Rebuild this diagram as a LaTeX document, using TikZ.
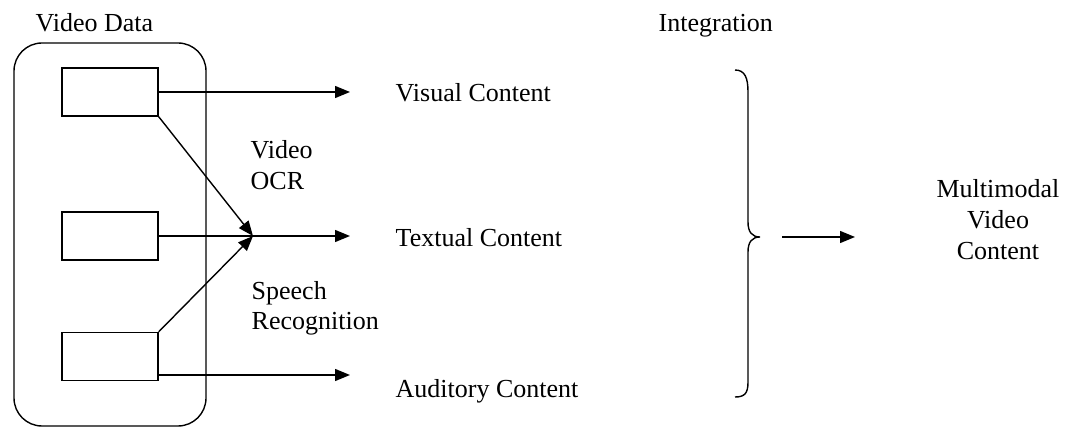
\documentclass[tikz,border=0pt]{standalone}
\usepackage{fontspec}
\setmainfont{Liberation Serif}
\usetikzlibrary{arrows.meta}
\begin{document}
\begin{tikzpicture}[x=1pt,y=-1pt,
  line width=1.4pt,
  lbl/.style={inner sep=0pt, anchor=base west, font=\fontsize{26}{30}\selectfont},
  src/.style={draw, minimum width=96pt, minimum height=48pt, inner sep=0pt},
  arr/.style={-{Triangle[length=15pt,width=12pt]}},
]
\useasboundingbox (0,0) rectangle (1073,427);
% container
\draw[rounded corners=28pt] (14,43) rectangle (206,426);
% source boxes
\node[src] (b1) at (110,92) {};
\node[src] (b2) at (110,236) {};
\node[src] (b3) at (110,356.5) {};
% arrow end points
\coordinate (e1) at (350,92);
\coordinate (e2) at (350,236);
\coordinate (e3) at (350,375);
\coordinate (cv) at (253,236);
% connectors
\draw[arr] (b1.east) -- (e1);
\draw[arr] (b2.east) -- (e2);
\draw[arr] ([yshift=-18.5pt]b3.east) -- (e3);
\draw[arr] (b1.south east) -- (cv);
\draw[arr] (b3.north east) -- (cv);
% labels
\node[lbl] (vd) at (35,32) {Video Data};
\node[lbl] (vc) at (395,102) {Visual Content};
\node[lbl] (tc) at (395,247) {Textual Content};
\node[lbl] (ac) at (395,397) {Auditory Content};
\node[lbl] (v1) at (250,159) {Video};
\node[lbl] (v2) at (250,190) {OCR};
\node[lbl] (s1) at (251,300) {Speech};
\node[lbl] (s2) at (251,330) {Recognition};
\node[lbl] (ig) at (658,32) {Integration};
% brace
\draw (735,70) .. controls (745,70) and (748,78) .. (748,92) -- (748,222)
  .. controls (748,232) and (752,237) .. (760,237)
  .. controls (752,237) and (748,242) .. (748,252) -- (748,382)
  .. controls (748,393) and (745,397) .. (735,397);
\coordinate (ia) at (782,237);
\coordinate (ib) at (855,237);
\draw[arr] (ia) -- (ib);
\node[lbl, anchor=base] (m1) at (998,198) {Multimodal};
\node[lbl, anchor=base] (m2) at (998,229) {Video};
\node[lbl, anchor=base] (m3) at (998,260) {Content};
\end{tikzpicture}
\end{document}
